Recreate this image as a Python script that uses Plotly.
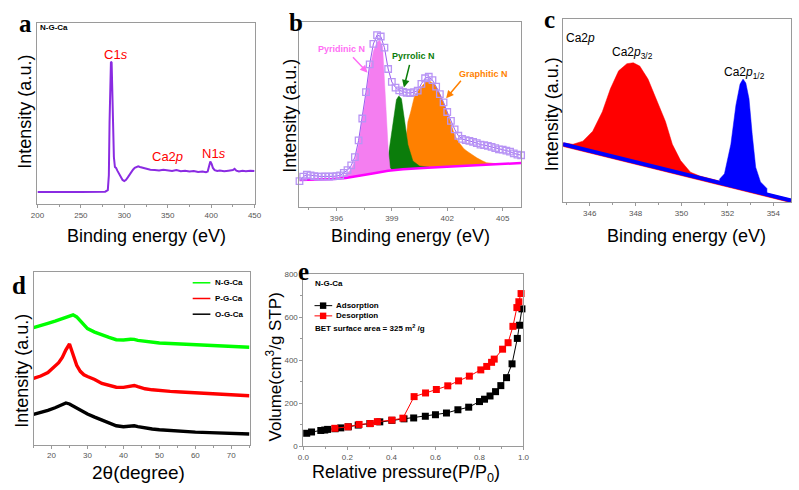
import plotly.graph_objects as go

# ---------------- data ----------------
# (a) XPS survey
a_energy = [200, 210, 220, 230, 240, 250, 260, 270, 278, 281, 282.2, 283, 283.8, 284.6, 285.4, 286.2, 287, 288,
            289.2, 290.5, 292, 294, 296, 298, 300, 302, 304, 306, 308, 310, 312, 314, 316, 318, 320, 323, 326, 330,
            335, 340, 345, 350, 355, 360, 365, 370, 375, 380, 385, 390, 394, 396, 397.5, 399, 400.5, 402, 404, 407,
            410, 415, 420, 425, 427, 429, 432, 436, 440, 445, 450]
a_intensity = [0.067, 0.068, 0.066, 0.068, 0.067, 0.067, 0.068, 0.067, 0.069, 0.078, 0.16, 0.45, 0.72, 0.785, 0.78,
               0.62, 0.42, 0.26, 0.205, 0.2, 0.185, 0.165, 0.148, 0.134, 0.128, 0.135, 0.148, 0.163, 0.178, 0.19,
               0.2, 0.207, 0.209, 0.205, 0.202, 0.2, 0.195, 0.19, 0.188, 0.186, 0.19, 0.186, 0.183, 0.188, 0.182,
               0.185, 0.18, 0.183, 0.178, 0.18, 0.176, 0.18, 0.21, 0.236, 0.222, 0.2, 0.188, 0.183, 0.186, 0.182,
               0.185, 0.188, 0.195, 0.185, 0.18, 0.184, 0.182, 0.185, 0.183]

# (b) N1s high resolution
b_energy = [394.0, 394.2, 394.4, 394.6, 394.8, 395.0, 395.2, 395.4, 395.6, 395.8, 396.0, 396.2, 396.4, 396.6, 396.8,
            397.0, 397.2, 397.4, 397.6, 397.8, 398.0, 398.2, 398.4, 398.6, 398.8, 399.0, 399.2, 399.4, 399.6, 399.8,
            400.0, 400.2, 400.4, 400.6, 400.8, 401.0, 401.2, 401.4, 401.6, 401.8, 402.0, 402.2, 402.4, 402.6, 402.8,
            403.0, 403.2, 403.4, 403.6, 403.8, 404.0, 404.2, 404.4, 404.6, 404.8, 405.0, 405.2, 405.4, 405.6, 405.8,
            406.0]
b_intensity = [0.14, 0.165, 0.175, 0.172, 0.168, 0.165, 0.165, 0.166, 0.165, 0.166, 0.168, 0.172, 0.185, 0.2, 0.225,
               0.27, 0.36, 0.478, 0.62, 0.77, 0.88, 0.928, 0.92, 0.86, 0.745, 0.675, 0.645, 0.63, 0.622, 0.617,
               0.615, 0.62, 0.628, 0.665, 0.695, 0.703, 0.685, 0.65, 0.61, 0.565, 0.513, 0.465, 0.42, 0.385, 0.368,
               0.362, 0.358, 0.352, 0.345, 0.337, 0.335, 0.33, 0.325, 0.318, 0.312, 0.31, 0.305, 0.30, 0.29, 0.283,
               0.28]
b_base_energy = [394.0, 395.0, 395.8, 396.5, 397.2, 397.96, 398.8, 399.6, 400.94, 402.2, 403.6, 404.8, 406.0]
b_base_value = [0.146, 0.148, 0.152, 0.158, 0.168, 0.182, 0.196, 0.205, 0.213, 0.22, 0.228, 0.233, 0.238]
pyridinic_energy = [396.2, 396.5, 396.8, 397.0, 397.2, 397.4, 397.6, 397.8, 398.0, 398.2, 398.35, 398.5, 398.6,
                    398.73, 398.81, 398.9, 399.0]
pyridinic_value = [0.157, 0.175, 0.205, 0.25, 0.34, 0.46, 0.6, 0.74, 0.84, 0.89, 0.9, 0.866, 0.69, 0.46, 0.30,
                   0.213, 0.198]
pyrrolic_energy = [396.5, 397.5, 398.3, 398.6, 398.8, 398.95, 399.1, 399.25, 399.38, 399.52, 399.7, 399.87, 400.14,
                   400.5, 401.0]
pyrrolic_value = [0.163, 0.18, 0.198, 0.215, 0.27, 0.38, 0.5, 0.58, 0.6, 0.584, 0.46, 0.337, 0.249, 0.222, 0.216]
graphitic_energy = [399.3, 399.6, 399.75, 399.87, 400.02, 400.23, 400.58, 400.8, 400.94, 401.1, 401.29, 401.45,
                    401.65, 401.85, 402.0, 402.2, 402.36, 402.55, 402.71, 402.9, 403.07, 403.3, 403.6, 403.9, 404.13,
                    404.5, 404.84]
graphitic_value = [0.204, 0.23, 0.35, 0.46, 0.513, 0.60, 0.646, 0.672, 0.681, 0.676, 0.663, 0.64, 0.6, 0.55, 0.51,
                   0.45, 0.40, 0.36, 0.337, 0.315, 0.302, 0.285, 0.266, 0.25, 0.24, 0.236, 0.234]

# (c) Ca2p high resolution
c_base_energy = [344.84, 354.77]
c_base_value = [0.316, 0.01]
ca32_energy = [344.84, 345.27, 345.7, 346.13, 346.55, 346.9, 347.26, 347.62, 347.9, 348.18, 348.54, 348.9, 349.3,
               349.6, 349.96, 350.39, 350.8, 351.4, 352.5, 353.5, 354.77]
ca32_value = [0.324, 0.316, 0.333, 0.387, 0.493, 0.618, 0.716, 0.755, 0.76, 0.742, 0.671, 0.564, 0.44, 0.316, 0.227,
              0.164, 0.143, 0.124, 0.086, 0.055, 0.016]
ca12_energy = [351.65, 351.87, 352.15, 352.37, 352.55, 352.68, 352.8, 352.94, 353.08, 353.23, 353.44, 353.72]
ca12_value = [0.125, 0.155, 0.316, 0.529, 0.644, 0.671, 0.65, 0.564, 0.369, 0.191, 0.111, 0.075]

# (d) XRD
d_two_theta = [15, 17, 19, 21, 22, 23, 24, 25, 26, 27, 28, 29, 30, 32, 34, 36, 38, 40, 42, 43, 44, 46, 48, 50, 53,
               56, 60, 64, 68, 72, 75]
d_ngca = [0.678, 0.688, 0.702, 0.715, 0.722, 0.73, 0.738, 0.744, 0.752, 0.74, 0.718, 0.69, 0.672, 0.652, 0.635,
          0.621, 0.608, 0.606, 0.611, 0.61, 0.604, 0.598, 0.594, 0.589, 0.586, 0.583, 0.578, 0.574, 0.568, 0.565,
          0.564]
d_pgca = [0.384, 0.398, 0.418, 0.452, 0.475, 0.505, 0.55, 0.583, 0.52, 0.46, 0.425, 0.405, 0.395, 0.378, 0.355,
          0.343, 0.333, 0.332, 0.34, 0.343, 0.336, 0.324, 0.318, 0.313, 0.309, 0.305, 0.3, 0.295, 0.29, 0.287,
          0.284]
d_ogca = [0.176, 0.186, 0.199, 0.214, 0.223, 0.234, 0.242, 0.236, 0.225, 0.21, 0.198, 0.188, 0.178, 0.16, 0.143,
          0.126, 0.11, 0.104, 0.108, 0.11, 0.105, 0.097, 0.091, 0.087, 0.082, 0.077, 0.073, 0.07, 0.067, 0.064,
          0.0625]
d_names = ["N-G-Ca", "P-G-Ca", "O-G-Ca"]

# (e) N2 isotherm
e_ads_p = [0.015, 0.037, 0.079, 0.097, 0.11, 0.144, 0.17, 0.204, 0.249, 0.302, 0.347, 0.402, 0.457, 0.501, 0.554,
           0.6, 0.65, 0.702, 0.751, 0.80, 0.823, 0.848, 0.873, 0.897, 0.923, 0.948, 0.972, 0.982, 0.993]
e_ads_v = [61, 67, 74, 76, 79, 82, 86, 91, 99, 106, 114, 121, 128, 132, 140, 147, 155, 170, 182, 208, 219, 234, 254,
           282, 319, 383, 501, 562, 638]
e_des_p = [0.989, 0.979, 0.97, 0.952, 0.93, 0.905, 0.867, 0.855, 0.833, 0.806, 0.754, 0.705, 0.656, 0.604, 0.555,
           0.503, 0.452, 0.402, 0.336, 0.304, 0.253, 0.202, 0.143]
e_des_v = [709, 671, 644, 557, 481, 451, 405, 390, 371, 355, 326, 304, 281, 264, 248, 231, 131, 122, 115, 106, 102,
           91, 84]

# ---------------- figure ----------------
W, H = 799, 490
def px(x): return x / W
def py(y): return 1 - y / H

FONT = "Arial, Liberation Sans, sans-serif"
SERIF = "Times New Roman, Liberation Serif, serif"

fig = go.Figure()

# (a)
fig.add_trace(go.Scatter(x=a_energy, y=a_intensity, mode="lines", line=dict(color="#8A2BE2", width=2),
                         xaxis="x", yaxis="y", showlegend=False))

# (b) components as filled regions closed along the baseline
def closed(top_x, top_y):
    lo, hi = top_x[0], top_x[-1]
    bx = [e for e in b_base_energy if lo < e < hi]
    by = [v for e, v in zip(b_base_energy, b_base_value) if lo < e < hi]
    return top_x + bx[::-1], top_y + by[::-1]

for ex, ey, col in [(graphitic_energy, graphitic_value, "#FF8000"),
                    (pyrrolic_energy, pyrrolic_value, "#0B7D0B"),
                    (pyridinic_energy, pyridinic_value, "#F47EF0")]:
    xx, yy = closed(ex, ey)
    fig.add_trace(go.Scatter(x=xx, y=yy, mode="lines", fill="toself", fillcolor=col, line=dict(color=col, width=0.5),
                             xaxis="x2", yaxis="y2", showlegend=False))
fig.add_trace(go.Scatter(x=b_base_energy, y=b_base_value, mode="lines", line=dict(color="#FF00FF", width=2.5),
                         xaxis="x2", yaxis="y2", showlegend=False))
fig.add_trace(go.Scatter(x=b_energy, y=b_intensity, mode="lines+markers",
                         line=dict(color="#9A5CF0", width=1),
                         marker=dict(symbol="square-open", size=6.5, color="#B894F5", line=dict(width=1.3)),
                         xaxis="x2", yaxis="y2", showlegend=False, cliponaxis=False))

# (c)
fig.add_trace(go.Scatter(x=ca32_energy + c_base_energy[::-1], y=ca32_value + [v - 0.012 for v in c_base_value[::-1]],
                         mode="lines", fill="toself", fillcolor="#FF0000", line=dict(color="#FF0000", width=0.5),
                         xaxis="x3", yaxis="y3", showlegend=False))
fig.add_trace(go.Scatter(x=ca12_energy + [353.72, 351.65], y=ca12_value + [0.042, 0.106],
                         mode="lines", fill="toself", fillcolor="#0000FF", line=dict(color="#0000FF", width=0.5),
                         xaxis="x3", yaxis="y3", showlegend=False))
fig.add_trace(go.Scatter(x=c_base_energy, y=c_base_value, mode="lines", line=dict(color="#0000FF", width=4),
                         xaxis="x3", yaxis="y3", showlegend=False))

# (d)
for ys, col, nm in [(d_ngca, "#00FF00", d_names[0]), (d_pgca, "#FF0000", d_names[1]), (d_ogca, "#000000", d_names[2])]:
    fig.add_trace(go.Scatter(x=d_two_theta, y=ys, mode="lines", line=dict(color=col, width=3.4),
                             xaxis="x4", yaxis="y4", showlegend=False, name=nm))

# (e)
fig.add_trace(go.Scatter(x=e_ads_p, y=e_ads_v, mode="lines+markers", line=dict(color="#000000", width=1),
                         marker=dict(symbol="square", size=7, color="#000000"),
                         xaxis="x5", yaxis="y5", showlegend=False, cliponaxis=False, name="Adsorption"))
fig.add_trace(go.Scatter(x=e_des_p, y=e_des_v, mode="lines+markers", line=dict(color="#FF0000", width=1),
                         marker=dict(symbol="square", size=7, color="#FF0000"),
                         xaxis="x5", yaxis="y5", showlegend=False, cliponaxis=False, name="Desorption"))

# ---------------- axes ----------------
base_ax = dict(showline=True, mirror=True, linecolor="#9A9A9A", linewidth=1, showgrid=False, zeroline=False,
               ticks="outside", ticklen=3, tickcolor="#9A9A9A", tickwidth=1,
               tickfont=dict(family=FONT, size=8, color="#555555"))
noy = dict(showline=True, mirror=True, linecolor="#9A9A9A", linewidth=1, showgrid=False, zeroline=False,
           ticks="", showticklabels=False, range=[0, 1])

def xa(domain, rng, tick0, dtick, mdtick, fmt=None):
    d = dict(base_ax, domain=domain, range=rng, tick0=tick0, dtick=dtick,
             minor=dict(ticks="outside", ticklen=2, tickcolor="#9A9A9A", dtick=mdtick, tick0=tick0))
    if fmt:
        d["tickformat"] = fmt
    return d

fig.update_layout(
    width=W, height=H, margin=dict(l=0, r=0, t=0, b=0), paper_bgcolor="white", plot_bgcolor="white",
    xaxis=xa([px(31), px(252)], [200, 450], 200, 50, 25),
    yaxis=dict(noy, domain=[py(204), py(19)], anchor="x"),
    xaxis2=dict(xa([px(297.7), px(523.3)], [394, 406], 396, 3, 1.5), anchor="y2"),
    yaxis2=dict(noy, domain=[py(207), py(18)], anchor="x2"),
    xaxis3=dict(xa([px(566), px(798)], [344.84, 354.77], 346, 2, 1), anchor="y3"),
    yaxis3=dict(noy, domain=[py(202), py(15)], anchor="x3"),
    xaxis4=dict(xa([px(27), px(247)], [15, 75.1], 20, 10, 5), anchor="y4"),
    yaxis4=dict(noy, domain=[py(449), py(273)], anchor="x4"),
    xaxis5=dict(xa([px(301.7), px(525.7)], [0, 1], 0, 0.2, 0.1, ".1f"), anchor="y5"),
    yaxis5=dict(base_ax, domain=[py(450.7), py(275)], range=[0, 800], tick0=0, dtick=200, anchor="x5",
                minor=dict(ticks="outside", ticklen=2, tickcolor="#9A9A9A", dtick=100)),
)

# ---------------- text ----------------
ann = []
def txt(x, y, s, size, color="black", xanchor="center", bold=False, angle=0, family=FONT):
    if bold:
        s = "<b>" + s + "</b>"
    ann.append(dict(x=px(x), y=py(y), xref="paper", yref="paper", text=s, showarrow=False,
                    xanchor=xanchor, yanchor="middle", textangle=angle,
                    font=dict(family=family, size=size, color=color)))

# panel letters
for s, x, y in [("a", 19, 20), ("b", 294, 19), ("c", 552, 16), ("d", 12, 287), ("e", 302, 272)]:
    txt(x, y, s, 25, bold=True, family=SERIF)

# axis titles
for x, y in [(142, 236), (411, 236), (692, 236)]:
    txt(x, y, "Binding energy (eV)", 18)
for x, y in [(18, 110), (288, 114), (555, 112), (15, 374)]:
    txt(x, y, "Intensity (a.u.)", 18, angle=-90)
txt(134, 477, "2θ(degree)", 19)
txt(406, 478, "Relative pressure(P/P<sub>0</sub>)", 18)
txt(272, 370, "Volume(cm<sup>3</sup>/g STP)", 17, angle=-90)

# panel a labels
txt(32, 24, "N-G-Ca", 8, xanchor="left", bold=True)
txt(111, 51, "C1<i>s</i>", 13, color="#FF0000")
txt(163, 155, "Ca2<i>p</i>", 13, color="#FF0000")
txt(211, 152, "N1<i>s</i>", 13, color="#FF0000")

# panel b labels and arrows
txt(340, 46, "Pyridinic N", 9, color="#FF6EF5", bold=True)
txt(414, 53, "Pyrrolic N", 9, color="#0B7D0B", bold=True)
txt(485, 71, "Graphitic N", 9, color="#FF8000", bold=True)
for hx, hy, ax_, ay_, col in [(367, 70, -16, -17, "#FF6EF5"), (404, 85, 6, -24, "#0B7D0B"),
                              (447, 96, 16, -19, "#FF8000")]:
    ann.append(dict(x=px(hx), y=py(hy), xref="paper", yref="paper", text="", showarrow=True,
                    arrowhead=2, arrowsize=1, arrowwidth=1.5, arrowcolor=col, ax=ax_, ay=ay_))

# panel c labels
txt(567, 35, "Ca2<i>p</i>", 12, xanchor="left")
txt(637, 50, "Ca2<i>p</i><sub>3/2</sub>", 12)
txt(751, 70, "Ca2<i>p</i><sub>1/2</sub>", 12)

# panel d legend
shapes = []
for (nm, col), yy in zip([(d_names[0], "#00FF00"), (d_names[1], "#FF0000"), (d_names[2], "#000000")], [284, 300, 316]):
    shapes.append(dict(type="line", xref="paper", yref="paper", x0=px(189), x1=px(207), y0=py(yy), y1=py(yy),
                       line=dict(color=col, width=1.5)))
    txt(210, yy, nm, 8, xanchor="left", bold=True)

# panel e legend
txt(311, 285, "N-G-Ca", 8, xanchor="left", bold=True)
for nm, col, yy in [("Adsorption", "#000000", 307.3), ("Desorption", "#FF0000", 317.7)]:
    shapes.append(dict(type="line", xref="paper", yref="paper", x0=px(313), x1=px(331), y0=py(yy), y1=py(yy),
                       line=dict(color=col, width=1)))
    shapes.append(dict(type="rect", xref="paper", yref="paper", x0=px(318.5), x1=px(325), y0=py(yy + 3.3),
                       y1=py(yy - 3.3), line=dict(width=0), fillcolor=col))
    txt(333, yy, nm, 8, xanchor="left", bold=True)
txt(311, 330, "BET surface area = 325 m<sup>2</sup> /g", 8, xanchor="left", bold=True)

fig.update_layout(annotations=ann, shapes=shapes)

fig.write_html("out.html", config={"displayModeBar": False},
               post_script="document.body.style.margin='0';")
